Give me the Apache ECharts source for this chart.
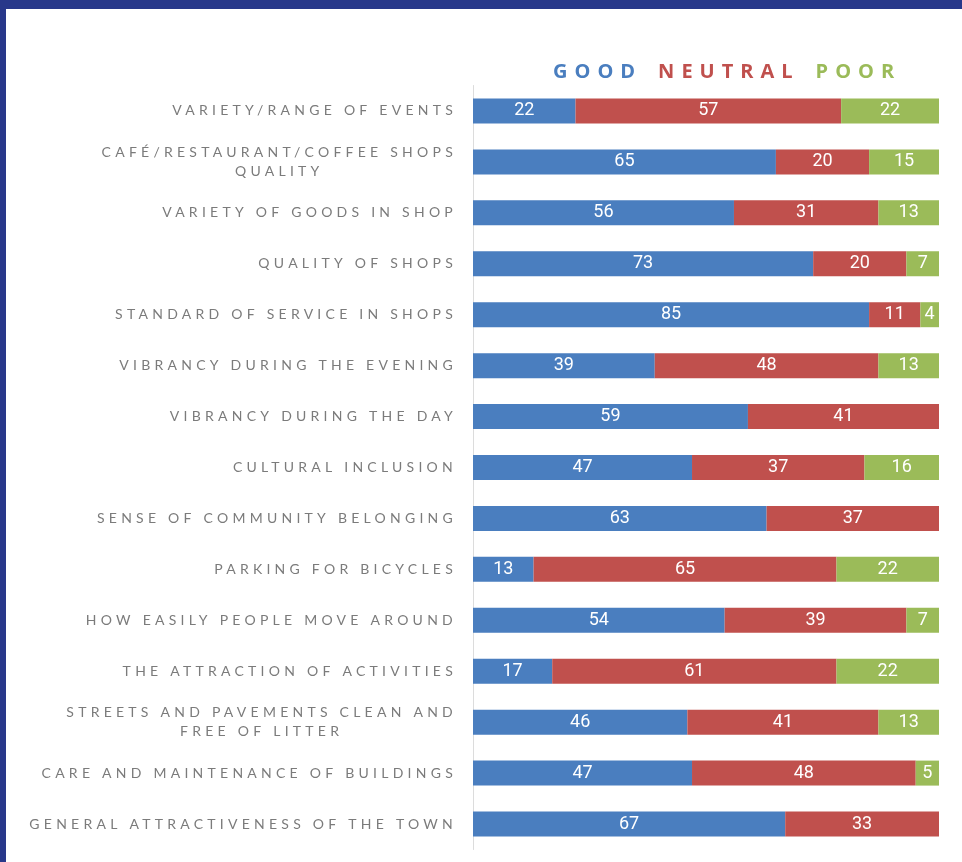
<!DOCTYPE html>
<html>
<head>
<meta charset="utf-8">
<title>Town centre survey ratings</title>
<script src="https://cdn.jsdelivr.net/npm/echarts@6/dist/echarts.min.js"></script>
<style>
  html, body { margin: 0; padding: 0; background: #28388a; }
  #chart { width: 962px; height: 862px; }
</style>
</head>
<body>
<div id="chart"></div>
<script>
// Survey categories, top to bottom
const categories = [
  'VARIETY/RANGE OF EVENTS',
  'CAFÉ/RESTAURANT/COFFEE SHOPS\nQUALITY',
  'VARIETY OF GOODS IN SHOP',
  'QUALITY OF SHOPS',
  'STANDARD OF SERVICE IN SHOPS',
  'VIBRANCY DURING THE EVENING',
  'VIBRANCY DURING THE DAY',
  'CULTURAL INCLUSION',
  'SENSE OF COMMUNITY BELONGING',
  'PARKING FOR BICYCLES',
  'HOW EASILY PEOPLE MOVE AROUND',
  'THE ATTRACTION OF ACTIVITIES',
  'STREETS AND PAVEMENTS CLEAN AND\nFREE OF LITTER',
  'CARE AND MAINTENANCE OF BUILDINGS',
  'GENERAL ATTRACTIVENESS OF THE TOWN'
];

// Percentage of respondents per rating
const good    = [22, 65, 56, 73, 85, 39, 59, 47, 63, 13, 54, 17, 46, 47, 67];
const neutral = [57, 20, 31, 20, 11, 48, 41, 37, 37, 65, 39, 61, 41, 48, 33];
const poor    = [22, 15, 13, 7, 4, 13, null, 16, null, 22, 7, 22, 13, 5, null];

const seriesNames = ['GOOD', 'NEUTRAL', 'POOR'];
const colors = ['#4a7ebf', '#c0504d', '#9bbb59'];

// Tracked (letter-spaced) capitals for the category labels and the legend.
const LABEL_FONT = 'Lato';
const LEGEND_FONT = 'Open Sans';
function trackingFor(font) {
  if (!font) return '0px';
  if (font.indexOf(LABEL_FONT) >= 0) return '4.25px';
  if (font.indexOf(LEGEND_FONT) >= 0) return '7px';
  return '0px';
}
(function () {
  const proto = CanvasRenderingContext2D.prototype;
  const desc = Object.getOwnPropertyDescriptor(proto, 'font');
  if (!desc || !('letterSpacing' in proto)) return;
  Object.defineProperty(proto, 'font', {
    configurable: true,
    enumerable: desc.enumerable,
    get() { return desc.get.call(this); },
    set(v) {
      desc.set.call(this, v);
      this.letterSpacing = trackingFor(v);
    }
  });
})();

const chart = echarts.init(document.getElementById('chart'), null, { renderer: 'canvas' });

function labelFormatter(value) {
  const lines = value.split('\n');
  if (lines.length === 1) return '{a|' + value + '}';
  return '{a|' + lines[0] + '}\n{c|' + lines[1] + '}';
}

const labelStyle = {
  fontFamily: LABEL_FONT,
  fontSize: 14,
  color: '#7b7b7b',
  lineHeight: 19
};

function makeSeries(i, values) {
  return {
    name: seriesNames[i],
    type: 'bar',
    stack: 'total',
    barWidth: 25,
    clip: true,
    itemStyle: { color: colors[i] },
    label: {
      show: true,
      position: 'inside',
      color: '#ffffff',
      fontFamily: 'Liberation Sans Narrow, Roboto, sans-serif',
      fontSize: 18
    },
    emphasis: { disabled: true },
    data: values
  };
}

chart.setOption({
  backgroundColor: '#28388a',
  animation: false,
  graphic: [{
    type: 'rect',
    z: -10,
    shape: { x: 6, y: 9, width: 956, height: 853 },
    style: { fill: '#ffffff' }
  }],
  legend: {
    left: 548,
    top: 59,
    padding: 0,
    icon: 'rect',
    itemWidth: 0,
    itemHeight: 0,
    itemGap: 11,
    selectedMode: false,
    textStyle: { fontFamily: LEGEND_FONT, fontWeight: 'bold', fontSize: 20 },
    data: seriesNames.map((n, i) => ({ name: n, textStyle: { color: colors[i] } }))
  },
  grid: { left: 473, right: 23, top: 85.5, bottom: 12.5, containLabel: false },
  xAxis: { type: 'value', min: 0, max: 100, show: false },
  yAxis: {
    type: 'category',
    inverse: true,
    data: categories,
    axisTick: { show: false },
    axisLine: { show: true, lineStyle: { color: '#dcdcdc', width: 1 } },
    axisLabel: {
      margin: 16,
      formatter: labelFormatter,
      rich: {
        a: Object.assign({ align: 'right' }, labelStyle),
        c: Object.assign({ align: 'center' }, labelStyle)
      }
    }
  },
  series: [makeSeries(0, good), makeSeries(1, neutral), makeSeries(2, poor)]
});
</script>
</body>
</html>
